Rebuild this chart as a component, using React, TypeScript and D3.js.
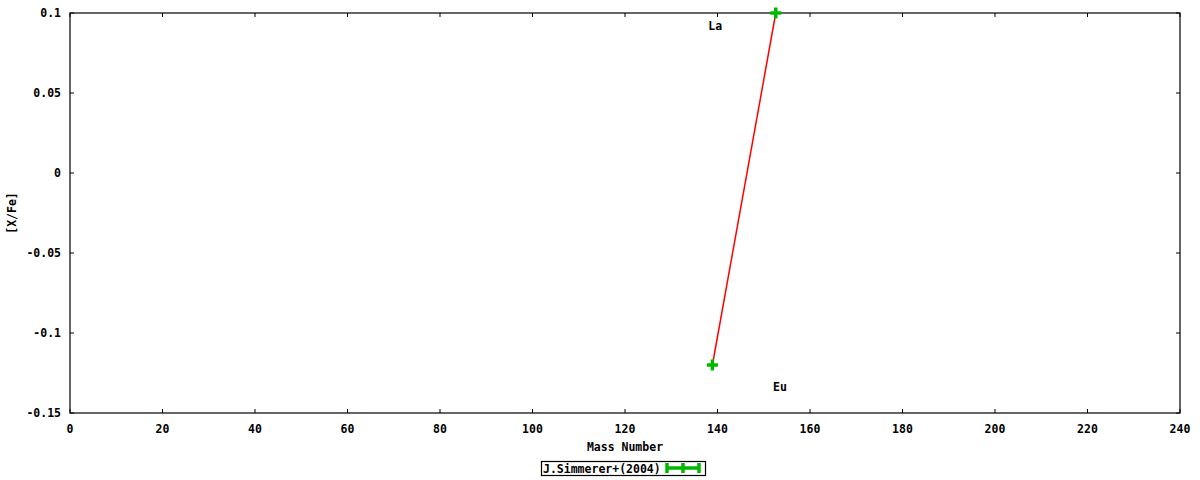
import * as d3 from "d3";

const elements = ["La", "Eu"];
const massNumbers = [138.9, 152.6];
const ratios = [-0.12, 0.1];
const labelMass = [139.5, 153.5];
const labelRatio = [0.092, -0.1337];
const xTicks = [0, 20, 40, 60, 80, 100, 120, 140, 160, 180, 200, 220, 240];
const yTicks = [-0.15, -0.1, -0.05, 0, 0.05, 0.1];
const legendLabel = "J.Simmerer+(2004)";

const W = 1200;
const H = 480;
const pad = { l: 70, r: 20, t: 13, b: 67 };
const font = "'DejaVu Sans Mono', monospace";
const GREEN = "#00b800";

export default function App() {
  const x = d3.scaleLinear().domain([0, 240]).range([pad.l, W - pad.r]);
  const y = d3.scaleLinear().domain([-0.15, 0.1]).range([H - pad.b, pad.t]);
  const line = d3
    .line<number>()
    .x((_, i) => x(massNumbers[i]))
    .y((d) => y(d));
  const fmt = (v: number) => (v === 0 ? "0" : String(+v.toFixed(2)));

  const x0 = x(0), x1 = x(240), y0 = y(-0.15), y1 = y(0.1);

  return (
    <svg
      width={W}
      height={H}
      style={{ position: "absolute", left: 0, top: 0, background: "#fff" }}
      fontFamily={font}
      fontWeight="bold"
      fontSize={11.5}
    >
      <rect width={W} height={H} fill="#fff" />
      {yTicks.map((t) => (
        <g key={"y" + t}>
          <line x1={x0} x2={x0 + 4} y1={y(t)} y2={y(t)} stroke="#000" />
          <line x1={x1} x2={x1 - 4} y1={y(t)} y2={y(t)} stroke="#000" />
          <text x={61} y={y(t) + 4} textAnchor="end" fill="#000">
            {fmt(t)}
          </text>
        </g>
      ))}
      {xTicks.map((t) => (
        <g key={"x" + t}>
          <line x1={x(t)} x2={x(t)} y1={y0} y2={y0 - 4} stroke="#000" />
          <line x1={x(t)} x2={x(t)} y1={y1} y2={y1 + 4} stroke="#000" />
          <text x={x(t)} y={y0 + 20} textAnchor="middle" fill="#000">
            {t}
          </text>
        </g>
      ))}
      <rect x={x0} y={y1} width={x1 - x0} height={y0 - y1} fill="none" stroke="#000" strokeWidth={1.2} />
      <path d={line(ratios) ?? ""} fill="none" stroke="#ff0000" strokeWidth={1.5} />
      {ratios.map((v, i) => (
        <g key={"p" + i} stroke={GREEN} strokeWidth={3.5}>
          <line x1={x(massNumbers[i]) - 5.5} x2={x(massNumbers[i]) + 5.5} y1={y(v)} y2={y(v)} />
          <line x1={x(massNumbers[i])} x2={x(massNumbers[i])} y1={y(v) - 5.5} y2={y(v) + 5.5} />
        </g>
      ))}
      {elements.map((e, i) => (
        <text key={e} x={x(labelMass[i])} y={y(labelRatio[i]) + 4} textAnchor="middle" fill="#000">
          {e}
        </text>
      ))}
      <text x={(x0 + x1) / 2} y={451} textAnchor="middle" fill="#000">
        Mass Number
      </text>
      <text transform={`translate(16,${(y0 + y1) / 2}) rotate(-90)`} textAnchor="middle" fill="#000">
        [X/Fe]
      </text>
      <rect x={541.5} y={461.5} width={164} height={14} fill="none" stroke="#000" strokeWidth={1.2} />
      <text x={543} y={472.5} fill="#000">
        {legendLabel}
      </text>
      <g stroke={GREEN} strokeWidth={3.5}>
        <line x1={666} x2={700} y1={468} y2={468} />
        <line x1={667} x2={667} y1={463} y2={473} />
        <line x1={699} x2={699} y1={463} y2={473} />
        <line x1={683} x2={683} y1={463} y2={473} />
      </g>
    </svg>
  );
}
